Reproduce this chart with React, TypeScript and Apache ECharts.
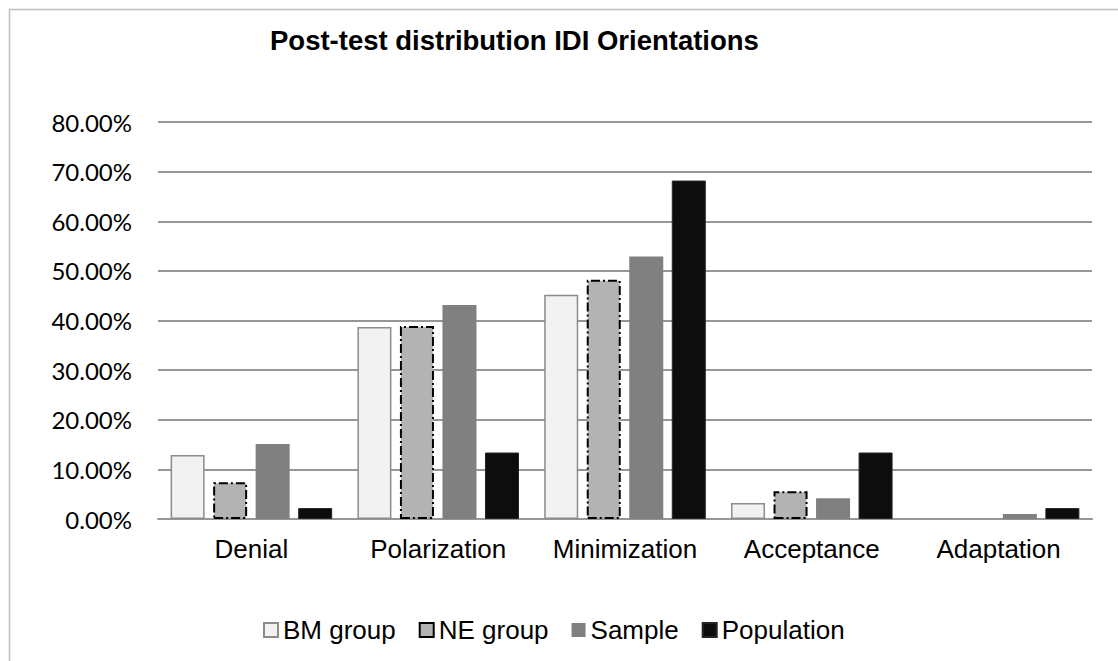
import React, { useEffect, useRef } from "react";
import * as echarts from "echarts";

// Orientation categories on the x axis
const categories = ["Denial", "Polarization", "Minimization", "Acceptance", "Adaptation"];

// Post-test shares per group, in percent
const bmGroup = [12.9, 38.7, 45.2, 3.2, 0];
const neGroup = [7.4, 38.9, 48.2, 5.6, 0];
const sample = [15.1, 43.1, 52.9, 4.2, 1.0];
const population = [2.2, 13.4, 68.2, 13.4, 2.2];

const seriesNames = ["BM group", "NE group", "Sample", "Population"];

const titleText = "Post-test distribution IDI Orientations";

const ARIAL = "Arial, 'Liberation Sans', sans-serif";
const GRID_GRAY = "#969696";

// Zero-height bars should not leave an outline on the baseline
const toBarData = (values: number[]) =>
  values.map((v) => (v === 0 ? { value: v, itemStyle: { borderWidth: 0 } } : v));

export default function App() {
  const ref = useRef<HTMLDivElement>(null);

  useEffect(() => {
    if (!ref.current) return;
    const chart = echarts.init(ref.current, undefined, { renderer: "svg" });

    const common = {
      type: "bar" as const,
      barGap: "25%",
      barCategoryGap: "13.5%",
    };

    chart.setOption({
      animation: false,
      backgroundColor: "#ffffff",
      title: {
        text: titleText,
        left: 265,
        top: 21,
        textStyle: {
          fontFamily: ARIAL,
          fontWeight: "bold",
          fontSize: 27.5,
          color: "#000000",
        },
      },
      graphic: [
        {
          type: "rect",
          shape: { x: 9.5, y: 9.5, width: 1300, height: 800 },
          style: { fill: "none", stroke: "#c0c0c0", lineWidth: 1.5 },
          silent: true,
          z: -1,
        },
      ],
      legend: {
        data: seriesNames,
        left: 258,
        top: 612,
        icon: "rect",
        itemWidth: 14,
        itemHeight: 14,
        itemGap: 23,
        textStyle: {
          fontFamily: ARIAL,
          fontSize: 26,
          color: "#000000",
        },
      },
      grid: {
        left: 158,
        right: 26,
        top: 122,
        bottom: 142,
        containLabel: false,
        outerBoundsMode: "none",
      },
      xAxis: {
        type: "category",
        data: categories,
        axisTick: { show: false },
        axisLine: { show: true, lineStyle: { color: GRID_GRAY, width: 2 } },
        axisLabel: {
          interval: 0,
          margin: 17,
          fontFamily: ARIAL,
          fontSize: 26,
          color: "#000000",
        },
      },
      yAxis: {
        type: "value",
        min: 0,
        max: 80,
        interval: 10,
        axisLine: { show: false },
        axisTick: { show: false },
        splitLine: { lineStyle: { color: GRID_GRAY, width: 2 } },
        axisLabel: {
          margin: 26,
          fontFamily: "Lato, 'Noto Sans', sans-serif",
          fontSize: 24,
          color: "#000000",
          formatter: (v: number) => v.toFixed(2) + "%",
        },
      },
      series: [
        {
          ...common,
          name: seriesNames[0],
          data: toBarData(bmGroup),
          itemStyle: { color: "#f2f2f2", borderColor: "#8c8c8c", borderWidth: 1.5 },
        },
        {
          ...common,
          name: seriesNames[1],
          data: toBarData(neGroup),
          itemStyle: {
            color: "#b3b3b3",
            borderColor: "#000000",
            borderWidth: 2,
            borderType: [9, 3, 2, 3],
          },
        },
        {
          ...common,
          name: seriesNames[2],
          data: toBarData(sample),
          itemStyle: { color: "#808080" },
        },
        {
          ...common,
          name: seriesNames[3],
          data: toBarData(population),
          itemStyle: { color: "#0d0d0d", borderColor: "#262626", borderWidth: 1 },
        },
      ],
    });

    return () => chart.dispose();
  }, []);

  return (
    <div
      ref={ref}
      style={{ position: "fixed", left: 0, top: 0, width: 1118, height: 661 }}
    />
  );
}
